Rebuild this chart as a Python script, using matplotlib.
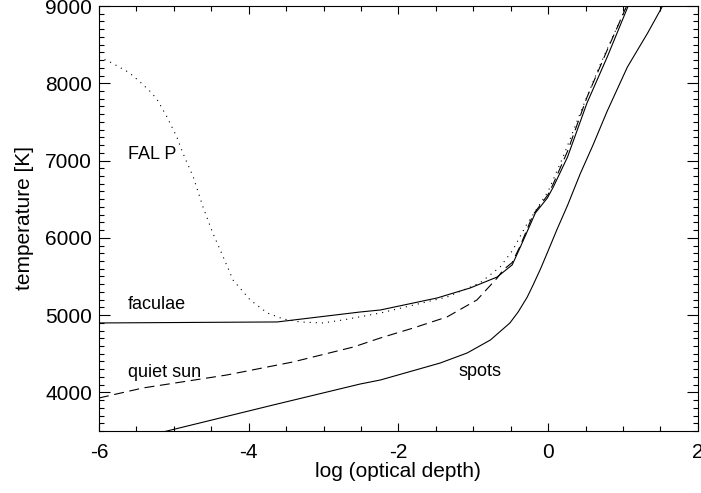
import matplotlib
matplotlib.use("Agg")
import matplotlib.pyplot as plt
from matplotlib.ticker import MultipleLocator

plt.rcParams['font.family'] = ['Liberation Sans', 'DejaVu Sans']
plt.rcParams['axes.unicode_minus'] = False

# model atmospheres: log(optical depth) vs temperature [K]
spots_x = [-5.3, -5.09, -3.67, -2.51, -2.24, -1.44, -1.08, -0.77, -0.51, -0.4, -0.28, -0.2,
           -0.1, 0.0, 0.12, 0.26, 0.43, 0.6, 0.79, 1.06, 1.33, 1.53, 1.6]
spots_T = [3450, 3500, 3837, 4108, 4160, 4380, 4510, 4678, 4898, 5040, 5230, 5390,
           5600, 5830, 6110, 6420, 6830, 7200, 7640, 8211, 8650, 9000, 9100]

faculae_x = [-6, -3.62, -2.51, -2.24, -1.48, -1.04, -0.68, -0.48, -0.37, -0.17, -0.01,
             0.07, 0.26, 0.52, 0.79, 1.07, 1.15]
faculae_T = [4898, 4911, 5040, 5066, 5222, 5351, 5493, 5649, 5882, 6321, 6515,
             6658, 7046, 7745, 8340, 9000, 9100]

quiet_x = [-6, -5.41, -4.29, -3.41, -2.60, -2.24, -1.80, -1.35, -0.95, -0.68, -0.60,
           -0.48, -0.37, -0.2, 0.0, 0.07, 0.26, 0.52, 0.79, 1.05, 1.1]
quiet_T = [3927, 4057, 4225, 4393, 4587, 4704, 4833, 4976, 5196, 5480, 5584,
           5680, 5900, 6300, 6560, 6700, 7120, 7820, 8430, 9000, 9100]

falp_x = [-6, -5.85, -5.6, -5.45, -5.3, -5.22, -5.1, -4.96, -4.88, -4.74, -4.61, -4.48,
          -4.34, -4.21, -3.98, -3.75, -3.54, -3.31, -3.01, -2.74, -2.24, -1.35, -0.91,
          -0.64, -0.47, -0.3, 0.0, 0.20, 0.43, 0.7, 1.05, 1.1]
falp_T = [8340, 8275, 8140, 8017, 7880, 7784, 7580, 7305, 7098, 6787, 6399, 6063,
          5752, 5455, 5196, 5027, 4950, 4911, 4898, 4937, 5027, 5234, 5416,
          5623, 5843, 6150, 6600, 7046, 7615, 8250, 9000, 9100]

labels = ["FAL P", "faculae", "quiet sun", "spots"]
label_x = [-5.61, -5.61, -5.61, -1.20]
label_T = [7072, 5131, 4251, 4264]

fig = plt.figure(figsize=(7.01, 4.93), dpi=100)
ax = fig.add_axes([0.1412, 0.1258, 0.8542, 0.862])

lw = 0.8
ax.plot(spots_x, spots_T, color='black', lw=lw)
ax.plot(faculae_x, faculae_T, color='black', lw=lw)
ax.plot(quiet_x, quiet_T, color='black', lw=lw, linestyle=(0, (9, 5)))
ax.plot(falp_x, falp_T, color='black', lw=lw, linestyle=(0, (1, 4.5)))

for s, x, t in zip(labels, label_x, label_T):
    ax.text(x, t, s, fontsize=13, va='center', ha='left')

ax.set_xlim(-6, 2)
ax.set_ylim(3500, 9000)
ax.xaxis.set_major_locator(MultipleLocator(2))
ax.xaxis.set_minor_locator(MultipleLocator(0.5))
ax.yaxis.set_major_locator(MultipleLocator(1000))
ax.yaxis.set_minor_locator(MultipleLocator(100))
ax.tick_params(axis='both', which='both', direction='in', top=True, right=True,
               labelsize=15, width=0.8)
ax.tick_params(axis='x', which='major', length=5.8, pad=8.5)
ax.tick_params(axis='x', which='minor', length=3.6)
ax.tick_params(axis='y', which='major', length=8, pad=5)
ax.tick_params(axis='y', which='minor', length=3.6)
for sp in ax.spines.values():
    sp.set_linewidth(0.8)

ax.set_xlabel("log (optical depth)", fontsize=15, labelpad=0)
ax.set_ylabel("temperature [K]", fontsize=15, labelpad=8)

fig.savefig("out.png", dpi=100)
